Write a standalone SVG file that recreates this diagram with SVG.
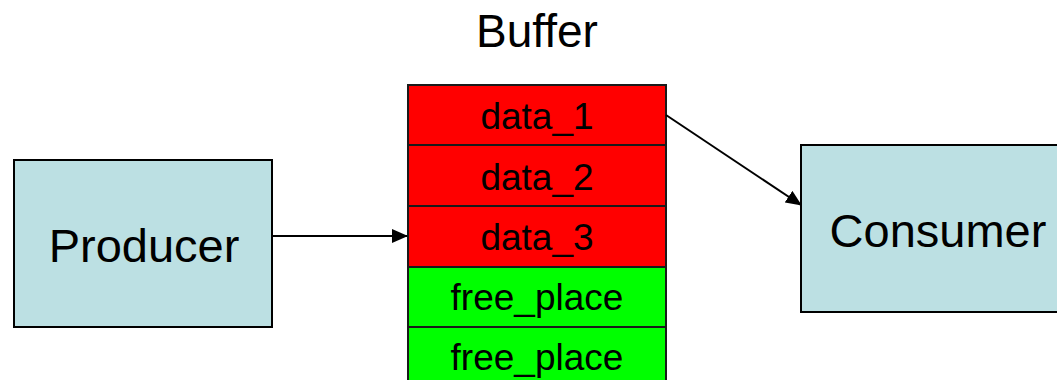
<svg xmlns="http://www.w3.org/2000/svg" width="1057" height="380" viewBox="0 0 1057 380">
  <style>
    .box { fill: #bce0e3; stroke: #000; stroke-width: 2; }
    .cell { stroke: #1a1a1a; stroke-width: 2; }
    .used { fill: #ff0000; }
    .free { fill: #00ff00; }
    .big { font-family: "Liberation Sans", Arial, sans-serif; font-size: 47px; fill: #000; text-anchor: middle; }
    .title { font-size: 46px; }
    .lbl { font-family: "Liberation Sans", Arial, sans-serif; font-size: 37px; fill: #000; text-anchor: middle; }
    .edge { stroke: #000; stroke-width: 2; fill: none; marker-end: url(#head); }
  </style>
  <defs>
    <marker id="head" markerWidth="16" markerHeight="14" refX="15" refY="7" orient="auto" markerUnits="userSpaceOnUse">
      <path d="M0,0 L16,7 L0,14 Z" fill="#000"/>
    </marker>
  </defs>
  <rect width="1057" height="380" fill="#fff"/>

  <g id="producer">
    <rect class="box" x="14" y="160" width="258" height="167"/>
    <text class="big" x="144" y="262">Producer</text>
  </g>

  <g id="consumer">
    <rect class="box" x="801" y="145" width="270" height="167"/>
    <text class="big" x="938" y="247">Consumer</text>
  </g>

  <g id="buffer">
    <text class="big title" x="537" y="47">Buffer</text>
    <rect class="cell used" x="408" y="85" width="258" height="60"/>
    <rect class="cell used" x="408" y="145" width="258" height="61"/>
    <rect class="cell used" x="408" y="206" width="258" height="61"/>
    <rect class="cell free" x="408" y="267" width="258" height="60"/>
    <rect class="cell free" x="408" y="327" width="258" height="60"/>
    <text class="lbl" x="537" y="129">data_1</text>
    <text class="lbl" x="537" y="190">data_2</text>
    <text class="lbl" x="537" y="250">data_3</text>
    <text class="lbl" x="537" y="310">free_place</text>
    <text class="lbl" x="537" y="370">free_place</text>
  </g>

  <g id="connectors">
    <line class="edge" x1="273" y1="236" x2="407" y2="236"/>
    <line class="edge" x1="666" y1="115" x2="801" y2="205"/>
  </g>
</svg>
